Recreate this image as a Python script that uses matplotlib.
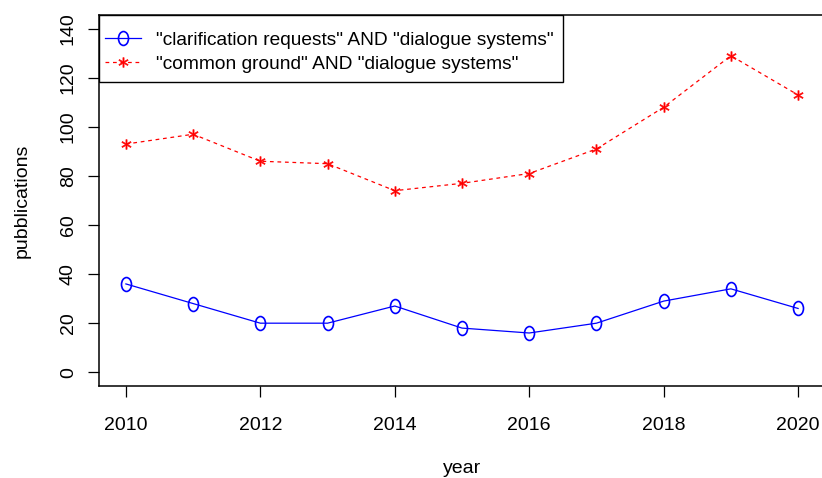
import matplotlib
matplotlib.use("Agg")
import matplotlib.pyplot as plt
from matplotlib.path import Path
from matplotlib.patches import Rectangle
from matplotlib.transforms import Affine2D

years = [2010, 2011, 2012, 2013, 2014, 2015, 2016, 2017, 2018, 2019, 2020]
clarification = [36, 28, 20, 20, 27, 18, 16, 20, 29, 34, 26]
common_ground = [93, 97, 86, 85, 74, 77, 81, 91, 108, 129, 113]
label_cr = '"clarification requests" AND "dialogue systems"'
label_cg = '"common ground" AND "dialogue systems"'
x_ticks = [2010, 2012, 2014, 2016, 2018, 2020]
y_ticks = [0, 20, 40, 60, 80, 100, 120, 140]

plt.rcParams["font.family"] = ["Liberation Sans", "DejaVu Sans"]
plt.rcParams["font.size"] = 14

# R's "o" glyph-like marker: a slightly tall open ellipse
oval = Path.unit_circle().transformed(Affine2D().scale(0.72, 1.0))

fig = plt.figure(figsize=(8.22, 4.78), dpi=100)
ax = fig.add_axes([99 / 822, 92 / 478, 726 / 822, 371 / 478])

ax.plot(years, clarification, color="blue", lw=0.9, marker=oval, ms=10,
        mfc="none", mec="blue", mew=1.2, label=label_cr)
ax.plot(years, common_ground, color="red", lw=0.9, ls=(0, (3, 3)),
        marker="$*$", ms=7, mew=0.4, label=label_cg)

ax.set_xlim(2009.6, 2020.4)
ax.set_ylim(-5.6, 145.6)
ax.set_xticks(x_ticks)
ax.set_yticks(y_ticks)
ax.set_yticklabels([str(v) for v in y_ticks], rotation=90, va="center")
ax.tick_params(axis="both", length=8, width=0.9, direction="out", labelsize=14)
ax.tick_params(axis="y", pad=8)
ax.tick_params(axis="x", pad=14)
for sp in ax.spines.values():
    sp.set_linewidth(1.1)
    sp.set_color("black")

ax.set_xlabel("year", fontsize=14, labelpad=19)
ax.set_ylabel("pubblications", fontsize=14, labelpad=21)

# R-style legend box: wider padding on top/bottom than at the sides
box = Rectangle((0, 304 / 371), 464 / 726, 67 / 371, transform=ax.transAxes,
                facecolor="white", edgecolor="black", lw=1.0, zorder=4)
ax.add_patch(box)
leg = ax.legend(loc="upper left", bbox_to_anchor=(0, 1 - 11 / 371),
                borderaxespad=0, frameon=False, handlelength=1.9,
                handletextpad=0.8, labelspacing=0.32, borderpad=0.3,
                fontsize=13.8)
leg.set_zorder(5)

fig.savefig("out.png", dpi=100)
